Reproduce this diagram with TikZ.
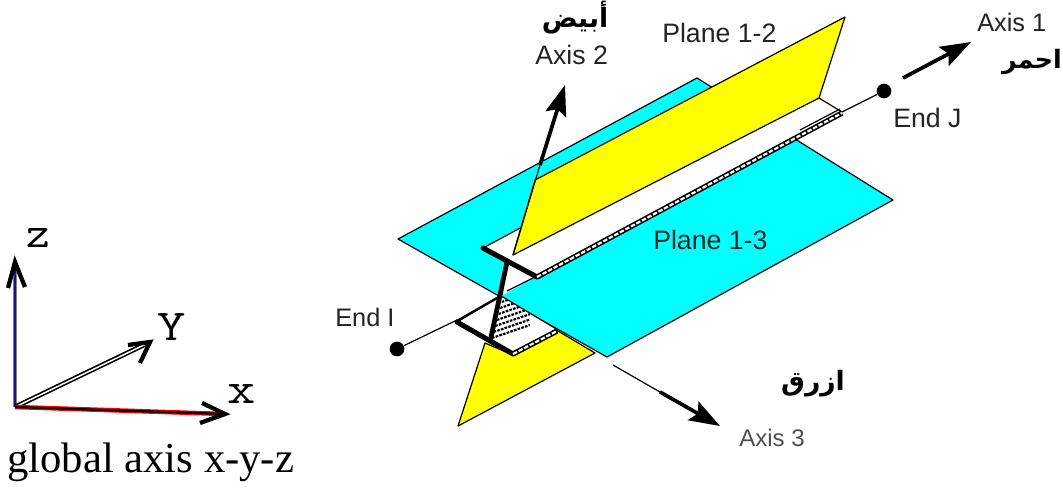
\documentclass[tikz,border=0pt]{standalone}
\usepackage{fontspec}
\usetikzlibrary{arrows.meta}
\setmainfont{Liberation Serif}
\newfontfamily\lblfont{Liberation Sans}
\newfontfamily\arabicfont[Script=Arabic]{DejaVu Sans}
\TeXXeTstate=1
\definecolor{planecyan}{RGB}{0,255,255}
\definecolor{planeyellow}{RGB}{255,255,0}
\definecolor{lbl}{RGB}{35,35,35}
\tikzset{
  edge/.style={draw=black,line width=0.9pt,line join=round},
  beamthick/.style={draw=black,line width=3.8pt,line cap=round},
  chainout/.style={draw=black,line width=4pt},
  chainin/.style={draw=white,line width=1.6pt,dash pattern=on 3.4pt off 1.3pt},
  axisline/.style={draw=black,line width=0.9pt},
  axisarrow/.style={draw=black,line width=2.8pt,-{Stealth[length=23pt,width=16pt,inset=4pt]}},
  enddot/.style={circle,fill=black,minimum size=11pt,inner sep=0pt},
  lab/.style={font=\lblfont\fontsize{20}{22}\selectfont,text=lbl,inner sep=0pt},
  ar/.style={font=\arabicfont\bfseries\fontsize{20}{22}\selectfont,inner sep=0pt,text=black},
  glab/.style={font=\ttfamily\fontsize{33}{36}\selectfont,inner sep=0pt},
  barbstroke/.style={draw=black,line width=3.2pt,line join=miter},
}
\begin{document}
\begin{tikzpicture}[x=0.75pt,y=-0.75pt]
\useasboundingbox (0,0) rectangle (1063,490);
% cyan plane
\path[fill=planecyan,edge] (398,239) -- (697,78) -- (893,200) -- (607,357) -- cycle;
% upper flange, white
\path[fill=white,edge] (483,248) -- (522,227) -- (819,98) -- (842,112) -- (537,278) -- cycle;
% upper yellow
\path[fill=planeyellow,edge] (535,180) -- (845,17) -- (819,98) -- (513,255) -- cycle;
% white triangle below the upper flange
\fill[white] (507,263) -- (535,277) -- (503,295) -- cycle;
\draw[edge] (507,291) -- (537,276);
% lower yellow
\path[fill=planeyellow,edge] (485,343) -- (458,426) -- (595,353) -- (558,331) -- (513,355) -- cycle;
% lower flange
\path[fill=white,edge] (457,322) -- (497,298) -- (503,297) -- (558,330) -- (513,355) -- cycle;
\begin{scope}
\clip (492,340) -- (503,297) -- (530,314) -- (530,332) -- cycle;
\foreach \i in {0,...,6}{
  \draw[black,line width=1.6pt,dash pattern=on 2pt off 0.9pt] ({492+1.6*\i},{338-6*\i}) -- ({530+1.6*\i},{325-6*\i});
}
\end{scope}
\draw[draw=black,line width=1.8pt] (457,321) -- (497,298);
% web
\draw[black,line width=3.6pt] (507,262) -- (490,342);
\draw[beamthick] (483,248) -- (537,277);
\draw[beamthick] (457,322) -- (513,354);
\draw[chainout] (537,277) -- (842,113);
\draw[chainin] (537,277) -- (842,113);
\draw[chainout] (513,354) -- (557,331);
\draw[chainin] (513,354) -- (557,331);
\draw[draw=black,line width=0.9pt] (800,130) -- (840,109);
% member axis
\node[enddot] (endI) at (397,349) {};
\node[enddot] (endJ) at (884,91) {};
\coordinate (flangeI) at (457,320);
\coordinate (flangeJ) at (842,112);
\draw[axisline] (endI) -- (flangeI);
\draw[axisline] (flangeJ) -- (endJ);
% local axes
\coordinate (a1s) at (903,78);
\coordinate (a1e) at (971,42);
\draw[axisarrow] (a1s) -- (a1e);
\coordinate (a2b) at (513,255);
\coordinate (a2s) at (540,165);
\coordinate (a2e) at (565,85);
\draw[axisline] (a2b) -- (a2s);
\draw[axisarrow] (a2s) -- (a2e);
\coordinate (a3s) at (613,365);
\coordinate (a3m) at (660,392);
\coordinate (a3e) at (720,426);
\draw[axisline] (a3s) -- (a3m);
\draw[axisarrow] (a3m) -- (a3e);
% labels
\node[lab,anchor=west] (p12) at (662,33) {Plane 1-2};
\node[lab,anchor=west] (p13) at (653,240) {Plane 1-3};
\node[lab,anchor=west,font=\lblfont\fontsize{19}{22}\selectfont] (ax1) at (977,22) {Axis 1};
\node[lab,anchor=west] (ax2) at (535,55) {Axis 2};
\node[lab,anchor=west,font=\lblfont\fontsize{18}{20}\selectfont,text=lbl!80] (ax3) at (739,438) {Axis 3};
\node[lab,anchor=west,font=\lblfont\fontsize{19}{22}\selectfont] (ei) at (335,317) {End I};
\node[lab,anchor=west] (ej) at (893,118) {End J};
\node[ar] (awhite) at (575,18) {\beginR أبيض\endR};
\node[ar,anchor=east,font=\arabicfont\bfseries\fontsize{19}{22}\selectfont] (ared) at (1062,62) {\beginR احمر\endR};
\node[ar] (ablue) at (813,384) {\beginR ازرق\endR};
% global axes
\coordinate (o) at (15,407);
\coordinate (gz) at (15,262);
\coordinate (gy) at (150,342);
\coordinate (gx) at (225,414);
\draw[draw=gray,line width=3pt] (o) -- (gz);
\draw[draw={rgb,255:red,20;green,20;blue,130},line width=1.7pt] (o) -- (gz);
\draw[barbstroke] (8,288) -- (gz) -- (25,287);
\draw[draw=black,line width=3.6pt] (o) -- (gy);
\draw[draw=white,line width=1.1pt] (o) -- (146,344);
\draw[barbstroke] (128,345) -- (gy) -- (140,363);
\draw[draw=red,line width=3.4pt] (o) -- (gx);
\draw[draw=black,line width=1.7pt] (o) -- (gx);
\draw[barbstroke] (202,403) -- (gx) -- (200,423);
\node[glab] (zt) at (38,238) {\scalebox{1.05}[1]{z}};
\node[glab] (yt) at (172,327) {\scalebox{1.25}[1]{Y}};
\node[glab] (xt) at (242,394) {\scalebox{1.25}[1]{x}};
\node[anchor=west,inner sep=0pt,font=\fontsize{32}{36}\selectfont] (gt) at (7,462) {global axis x-y-z};
\end{tikzpicture}
\end{document}
